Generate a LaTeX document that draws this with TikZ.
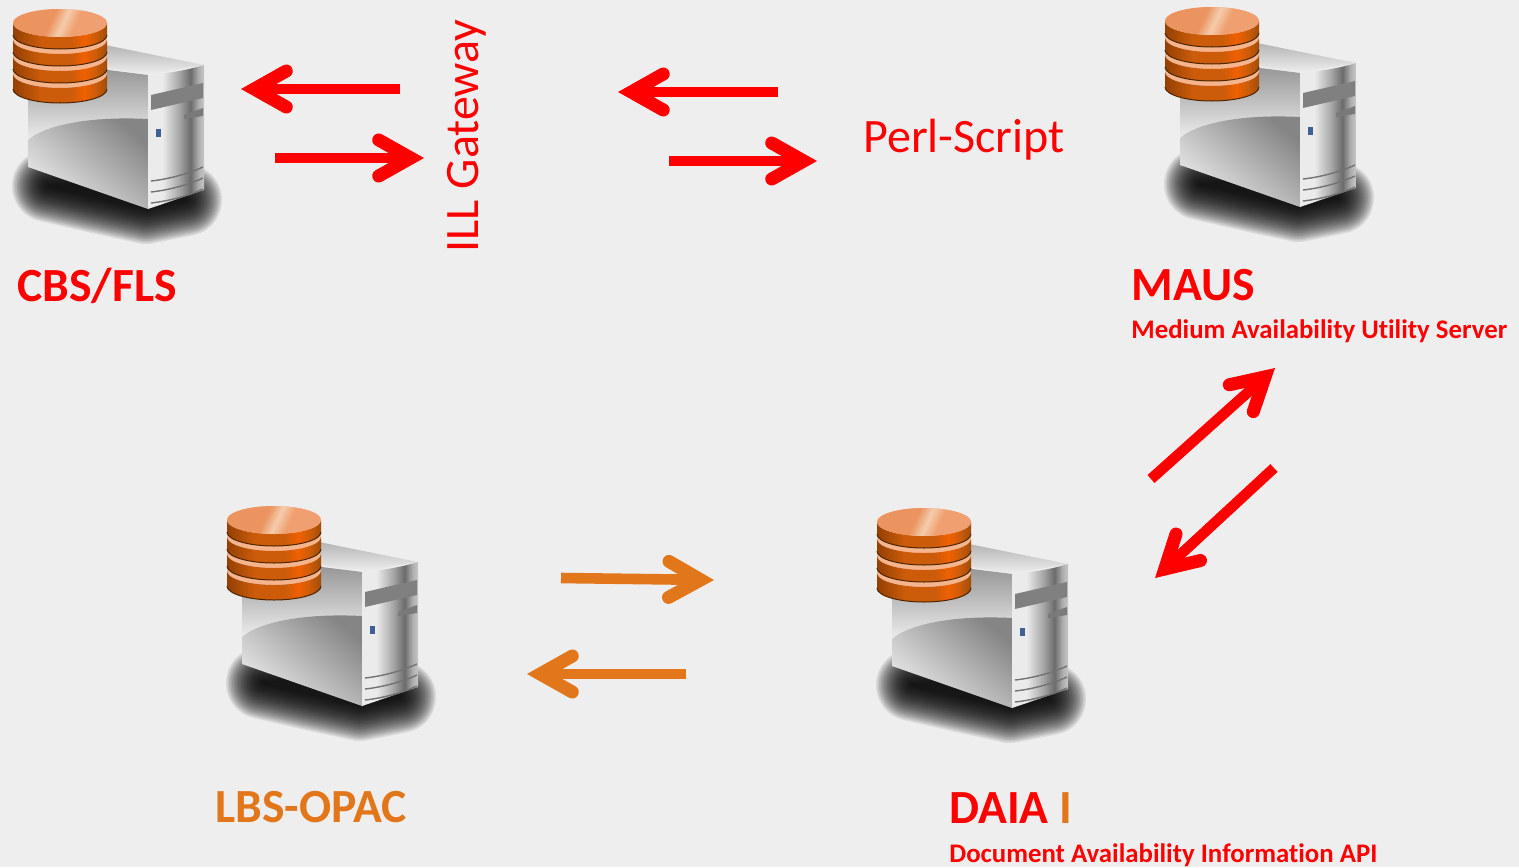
\documentclass[tikz,border=0pt]{standalone}
\usepackage{fontspec}
\setmainfont{Carlito}[Ligatures=NoCommon]
\usetikzlibrary{arrows.meta}
\definecolor{bg}{HTML}{EEEEEE}
\definecolor{rd}{HTML}{FF0000}
\definecolor{og}{HTML}{E2761A}
\definecolor{peach}{HTML}{F6B48C}
\definecolor{dkl}{HTML}{944004}
\definecolor{mid}{HTML}{CC5C0A}
\definecolor{brt}{HTML}{F06000}
\definecolor{dkr}{HTML}{A04C08}
\definecolor{tp1}{HTML}{EC9460}
\definecolor{tp2}{HTML}{F4CCAC}
\definecolor{tp3}{HTML}{F0A070}
\pgfdeclarehorizontalshading{diskside}{100bp}{color(0bp)=(dkl);color(25bp)=(dkl);color(40bp)=(mid);color(56bp)=(mid);color(63bp)=(brt);color(69bp)=(mid);color(75bp)=(dkr);color(100bp)=(dkr)}
\pgfdeclarehorizontalshading{disktop}{100bp}{color(0bp)=(tp1);color(25bp)=(tp1);color(44bp)=(tp1);color(52bp)=(tp2);color(60bp)=(tp3);color(75bp)=(tp3);color(100bp)=(tp3)}
\pgfdeclarehorizontalshading{sideface}{100bp}{color(0bp)=(white);color(25bp)=(black!8);color(38bp)=(black!8);color(53bp)=(black!35);color(63bp)=(black!58);color(70bp)=(black!32);color(75bp)=(black!22);color(100bp)=(black!22)}
\tikzset{
 x=0.5pt,y=-0.5pt,
 redarrow/.style={draw=rd,line width=5.3pt,-{Straight Barb[length=16pt,width=18pt,line width=6.5pt,line cap=round,line join=miter]}},
 orangearrow/.style={redarrow,draw=og},
 bigred/.style={text=rd,font=\fontsize{23.8}{26}\selectfont\bfseries,anchor=west,inner sep=0pt},
 bigorange/.style={bigred,text=og},
 smallred/.style={text=rd,font=\fontsize{13.4}{16}\selectfont\bfseries,anchor=west,inner sep=0pt},
 plainred/.style={text=rd,font=\fontsize{24}{28}\selectfont,inner sep=0pt},
 pics/server/.style={code={
  % soft shadow
  \foreach \w in {72,69,...,3}{
   \begin{scope}[transparency group,opacity=0.085]
    \draw[black,fill=black,line width=\w*0.5pt,line join=round] (48,186)--(100,198)--(146,208)--(186,200)--(150,180)--cycle;
   \end{scope}}
  % top
  \shade[top color=black!30,bottom color=black!6] (100,44)--(204,65)--(148,75)--(60,60)--cycle;
  % front
  \shade[top color=black!45,bottom color=black!5] (28,60)--(148,75)--(148,125)--(28,145)--cycle;
  \shade[top color=black!48,bottom color=black!8,shading angle=-40] (28,140) .. controls (45,125) and (90,116) .. (148,119) -- (148,209)--(28,167)--cycle;
  % side
  \shade[shading=sideface] (148,75) .. controls (170,73) and (188,70) .. (204,65)--(204,190)--(148,209)--cycle;
  \fill[black!50] (151,95)--(203,83)--(203,98)--(151,110)--cycle;
  \fill[black!52] (184,115)--(203,108)--(203,116)--(184,119)--cycle;
  \fill[black!50!cyan!60!blue] (156,129) rectangle (161,137);
  \foreach \d in {0,11,22}{
   \draw[black!55,line width=0.7pt] (151,181+\d) .. controls (170,179+\d) and (190,173+\d) .. (203,167+\d);}
  % disks
  \foreach \t/\b in {74/89,57/69,40/52,23/35}{
   \fill[peach] (60,\t) ellipse[x radius=47,y radius=14];
   \shade[shading=diskside] (13,\t) -- (13,\b) arc[start angle=180,end angle=360,x radius=47,y radius=-14] -- (107,\t) arc[start angle=0,end angle=180,x radius=47,y radius=14] -- cycle;
   \draw[black!70!orange,line width=0.5pt] (13,\b) arc[start angle=180,end angle=360,x radius=47,y radius=-14];
  }
  \shade[shading=disktop,shading angle=-25] (60,23) ellipse[x radius=47,y radius=14];
 }}
}
\begin{document}
\begin{tikzpicture}
\useasboundingbox[fill=bg] (0,0) rectangle (1519,867);
\pic (cbs) at (0,0) {server};
\pic (maus) at (1152,-2) {server};
\pic (lbs) at (214,497) {server};
\pic (daia) at (864,499) {server};
\node[bigred] (cbslabel) at (17,286) {CBS/FLS};
\node[bigred] (mauslabel) at (1131,285) {MAUS};
\node[smallred] (maussub) at (1131,331) {Medium Availability Utility Server};
\node[bigorange] (lbslabel) at (215,807) {LBS-OPAC};
\node[bigred] (daialabel) at (949,808) {DAIA {\color{og}I}};
\node[smallred] (daiasub) at (949,855) {Document Availability Information API};
\node[plainred,rotate=90] (ill) at (467,136) {ILL Gateway};
\node[plainred] (perl) at (964,140) {Perl-Script};
\coordinate (a1s) at (400,89); \coordinate (a1e) at (241,89);
\coordinate (a2s) at (275,158); \coordinate (a2e) at (424,158);
\coordinate (a3s) at (778,92); \coordinate (a3e) at (618,92);
\coordinate (a4s) at (669,161); \coordinate (a4e) at (817,161);
\coordinate (a5s) at (1151,479); \coordinate (a5e) at (1275,368);
\coordinate (a6s) at (1274,468); \coordinate (a6e) at (1155,578);
\coordinate (a7s) at (561,578); \coordinate (a7e) at (714,580);
\coordinate (a8s) at (686,674); \coordinate (a8e) at (527,674);
\draw[redarrow] (a1s)--(a1e);
\draw[redarrow] (a2s)--(a2e);
\draw[redarrow] (a3s)--(a3e);
\draw[redarrow] (a4s)--(a4e);
\draw[redarrow] (a5s)--(a5e);
\draw[redarrow] (a6s)--(a6e);
\draw[orangearrow] (a7s)--(a7e);
\draw[orangearrow] (a8s)--(a8e);
\end{tikzpicture}
\end{document}
